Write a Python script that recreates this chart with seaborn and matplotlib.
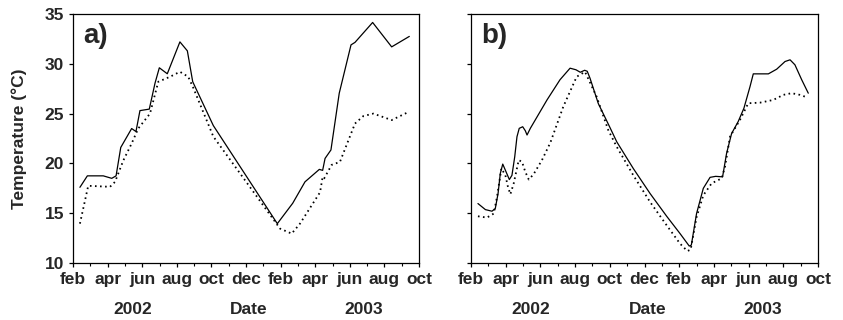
import numpy as np
import pandas as pd
import seaborn as sns
import matplotlib
matplotlib.use("Agg")
import matplotlib.pyplot as plt
from matplotlib import transforms
from matplotlib.ticker import MultipleLocator

# ---- data (x = months since Feb 2002) ----
a_solid_x = [0.40, 0.83, 1.75, 2.24, 2.49, 2.76, 3.39, 3.64, 3.87, 4.41, 4.74, 4.99, 5.45, 6.18, 6.61,
             6.92, 8.11, 11.81, 12.70, 13.41, 14.24, 14.43, 14.57, 14.91, 15.39, 16.07, 16.30, 17.32, 18.42, 19.44]
a_solid_y = [17.6, 18.75, 18.75, 18.5, 18.75, 21.6, 23.5, 23.2, 25.3, 25.45, 28.05, 29.6, 29.0, 32.2, 31.3,
             28.2, 23.8, 13.95, 16.0, 18.15, 19.4, 19.3, 20.5, 21.35, 27.05, 31.9, 32.15, 34.15, 31.7, 32.75]

a_dot_x = [0.40, 0.88, 2.14, 2.43, 2.91, 3.39, 3.77, 4.45, 4.93, 5.61, 6.18, 6.66, 6.95, 8.11, 11.97,
           12.64, 13.12, 14.28, 14.43, 14.52, 14.95, 15.43, 16.30, 16.78, 17.36, 18.42, 19.44]
a_dot_y = [13.95, 17.75, 17.65, 18.15, 20.3, 22.0, 23.5, 25.0, 28.2, 28.7, 29.2, 28.7, 27.6, 22.7, 13.45,
           12.95, 13.95, 17.1, 18.65, 18.5, 19.85, 20.15, 24.0, 24.75, 25.0, 24.35, 25.2]

b_solid_x = [0.40, 0.83, 1.21, 1.40, 1.56, 1.69, 1.83, 1.98, 2.21, 2.36, 2.52, 2.65, 2.78, 2.98, 3.13,
             3.23, 3.42, 4.38, 5.13, 5.71, 6.05, 6.30, 6.55, 6.70, 6.86, 7.34, 8.01, 8.40, 9.35, 10.32,
             11.28, 12.05, 12.58, 12.70, 13.00, 13.39, 13.78, 14.10, 14.50, 14.73, 15.02, 15.40, 15.73,
             16.08, 16.27, 16.66, 17.14, 17.62, 18.10, 18.39, 18.67, 19.06, 19.44]
b_solid_y = [15.97, 15.36, 15.2, 15.47, 16.98, 19.0, 19.93, 19.32, 18.38, 18.8, 20.66, 22.68, 23.52, 23.68, 23.28,
             22.85, 23.52, 26.37, 28.4, 29.56, 29.4, 29.15, 29.35, 29.25, 28.55, 26.0, 23.6, 22.17, 19.5, 16.98,
             14.69, 12.95, 11.7, 11.8, 14.96, 17.5, 18.6, 18.7, 18.65, 21.0, 23.0, 24.2, 25.54,
             27.7, 28.99, 28.99, 28.99, 29.46, 30.23, 30.4, 29.9, 28.4, 27.05]

b_dot_x = [0.40, 0.92, 1.31, 1.50, 1.75, 1.98, 2.13, 2.27, 2.46, 2.75, 2.94, 3.13, 3.33, 3.61, 4.09,
           4.57, 5.32, 6.09, 6.57, 7.24, 7.91, 8.40, 9.35, 10.32, 11.28, 12.05, 12.47, 12.66, 13.00, 13.39,
           13.87, 14.45, 14.64, 14.93, 15.50, 15.98, 16.66, 17.42, 18.00, 18.48, 18.96, 19.35]
b_dot_y = [14.69, 14.56, 14.96, 16.64, 19.49, 18.82, 17.64, 16.9, 17.98, 20.33, 20.16, 19.15, 18.38, 18.92, 20.33,
           22.07, 25.7, 28.7, 29.2, 26.7, 23.35, 21.67, 18.82, 16.13, 13.78, 11.94, 11.2, 11.34, 14.6, 16.8,
           18.0, 18.5, 19.66, 22.7, 24.36, 26.04, 26.1, 26.37, 26.88, 27.05, 26.88, 26.64]

month_ticks = [0, 2, 4, 6, 8, 10, 12, 14, 16, 18, 20]
month_labels = ["feb", "apr", "jun", "aug", "oct", "dec", "feb", "apr", "jun", "aug", "oct"]
y_ticks = [10, 15, 20, 25, 30, 35]
panel_labels = ["a)", "b)"]
year_labels = ["2002", "2003"]
x_title = "Date"
y_title = "Temperature (\u00b0C)"

# ---- style ----
sns.set_style("ticks")
plt.rcParams["font.family"] = ["Liberation Sans", "DejaVu Sans"]
plt.rcParams["font.weight"] = "bold"
plt.rcParams["axes.linewidth"] = 0.9
plt.rcParams["axes.edgecolor"] = "black"

fig = plt.figure(figsize=(8.43, 3.2), dpi=100)
ax_a = fig.add_axes([73 / 843, 1 - 263 / 320, 346 / 843, 249 / 320])
ax_b = fig.add_axes([471 / 843, 1 - 263 / 320, 347 / 843, 249 / 320])

panels = [
    (ax_a, a_solid_x, a_solid_y, a_dot_x, a_dot_y),
    (ax_b, b_solid_x, b_solid_y, b_dot_x, b_dot_y),
]

for i, (ax, sx, sy, dx, dy) in enumerate(panels):
    sns.lineplot(x=sx, y=sy, ax=ax, color="black", linewidth=0.9,
                 estimator=None, sort=False)
    sns.lineplot(x=dx, y=dy, ax=ax, color="black", linewidth=1.3,
                 linestyle=(0, (0.9, 1.9)), estimator=None, sort=False)
    ax.set_xlim(0, 20)
    ax.set_ylim(10, 35)
    ax.set_xticks(month_ticks)
    ax.set_xticklabels(month_labels, fontsize=12.5, fontweight="bold")
    ax.xaxis.set_minor_locator(MultipleLocator(1))
    ax.set_yticks(y_ticks)
    if i == 0:
        ax.set_yticklabels([str(v) for v in y_ticks], fontsize=12.5, fontweight="bold")
    else:
        ax.set_yticklabels([])
    ax.tick_params(axis="both", which="major", direction="out", length=3, width=0.9, pad=3.5, color="black")
    ax.tick_params(axis="x", which="minor", direction="out", length=2.5, width=0.8, color="black")
    for sp in ax.spines.values():
        sp.set_visible(True)
        sp.set_color("black")
        sp.set_linewidth(0.9)
    ax.set_xlabel("")
    ax.set_ylabel("")
    ax.text(0.03, 0.965, panel_labels[i], transform=ax.transAxes, fontsize=20,
            fontweight="bold", ha="left", va="top")
    tr = transforms.blended_transform_factory(ax.transAxes, fig.transFigure)
    ax.text(0.172, 1 - 309 / 320, year_labels[0], transform=tr, fontsize=12.5,
            fontweight="bold", ha="center", va="center")
    ax.text(0.508, 1 - 309 / 320, x_title, transform=tr, fontsize=12.5,
            fontweight="bold", ha="center", va="center")
    ax.text(0.84, 1 - 309 / 320, year_labels[1], transform=tr, fontsize=12.5,
            fontweight="bold", ha="center", va="center")

fig.text(19.5 / 843, 1 - 138.5 / 320, y_title, rotation=90, fontsize=12.5,
         fontweight="bold", ha="center", va="center")

fig.savefig("out.png", dpi=100, facecolor="white")
